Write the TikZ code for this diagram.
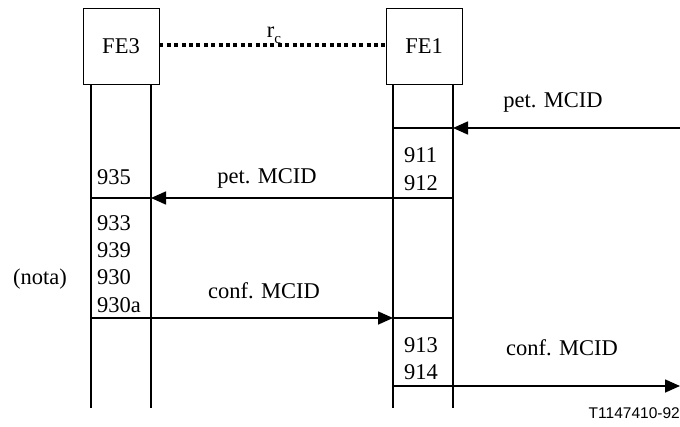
\documentclass[tikz,border=0pt]{standalone}
\usepackage{fontspec}
\setmainfont{Liberation Serif}
\newfontfamily\labsans{Liberation Sans}
\usetikzlibrary{arrows.meta}
\begin{document}
\begin{tikzpicture}[x=1pt,y=-1pt,
  fe/.style={draw,line width=0.9pt,minimum width=76pt,minimum height=76pt,inner sep=0pt,font=\fontsize{22.5}{26}\selectfont},
  life/.style={line width=1.6pt},
  msg/.style={line width=1.6pt,-{Triangle[length=15pt,width=13pt]}},
  tick/.style={line width=1.6pt},
  txt/.style={inner sep=0pt,font=\fontsize{22.5}{26}\selectfont},
  num/.style={txt,anchor=base west},
  lab/.style={txt,anchor=base},
  dots/.style={line width=3.5pt,dash pattern=on 4pt off 3.4pt}]
\useasboundingbox (0,0) rectangle (680,426);
\node[fe] (fe3) at (121,46) {FE3};
\node[fe] (fe1) at (424,46) {FE1};
% lifelines
\coordinate (a1) at (91,84);  \coordinate (a2) at (91,408);
\coordinate (b1) at (151,84); \coordinate (b2) at (151,408);
\coordinate (c1) at (393,84); \coordinate (c2) at (393,408);
\coordinate (d1) at (453,84); \coordinate (d2) at (453,408);
\draw[life] (a1) -- (a2);
\draw[life] (b1) -- (b2);
\draw[life] (c1) -- (c2);
\draw[life] (d1) -- (d2);
% dotted relation
\draw[dots] (fe3.east |- 0,45) -- (fe1.west |- 0,45);
\node[txt,anchor=base] (rc) at (274,37) {r\raisebox{-6pt}{\fontsize{15}{18}\selectfont c}};
% message 1
\coordinate (m1s) at (680,128); \coordinate (m1e) at (453,128); \coordinate (m1b) at (393,128);
\draw[msg] (m1s) -- (m1e);
\draw[tick] (m1b) -- (m1e);
\node[lab] (l1) at (553,107) {pet. MCID};
\node[num] (n911) at (404,162) {911};
\node[num] (n912) at (404,190) {912};
% message 2
\coordinate (m2s) at (453,198); \coordinate (m2e) at (151,198); \coordinate (m2b) at (91,198);
\draw[msg] (m2s) -- (m2e);
\draw[tick] (m2b) -- (m2e);
\node[lab] (l2) at (267,183) {pet. MCID};
\node[num] (n935) at (97,184) {935};
\node[num] (n933) at (97,230) {933};
\node[num] (n939) at (97,257) {939};
\node[num] (n930) at (97,284) {930};
\node[num] (n930a) at (97,312) {930a};
\node[txt,anchor=base] (nota) at (40,284) {(nota)};
% message 3
\coordinate (m3s) at (91,318); \coordinate (m3e) at (393,318); \coordinate (m3b) at (453,318);
\draw[msg] (m3s) -- (m3e);
\draw[tick] (m3e) -- (m3b);
\node[lab] (l3) at (264,298) {conf. MCID};
\node[num] (n913) at (404,352) {913};
\node[num] (n914) at (404,379) {914};
% message 4
\coordinate (m4s) at (393,386); \coordinate (m4e) at (680,386);
\draw[msg] (m4s) -- (m4e);
\node[lab] (l4) at (562,355) {conf. MCID};
\node[inner sep=0pt,anchor=base east,font=\labsans\fontsize{15.5}{18}\selectfont] (ref) at (680,418) {T1147410-92};
\end{tikzpicture}
\end{document}
